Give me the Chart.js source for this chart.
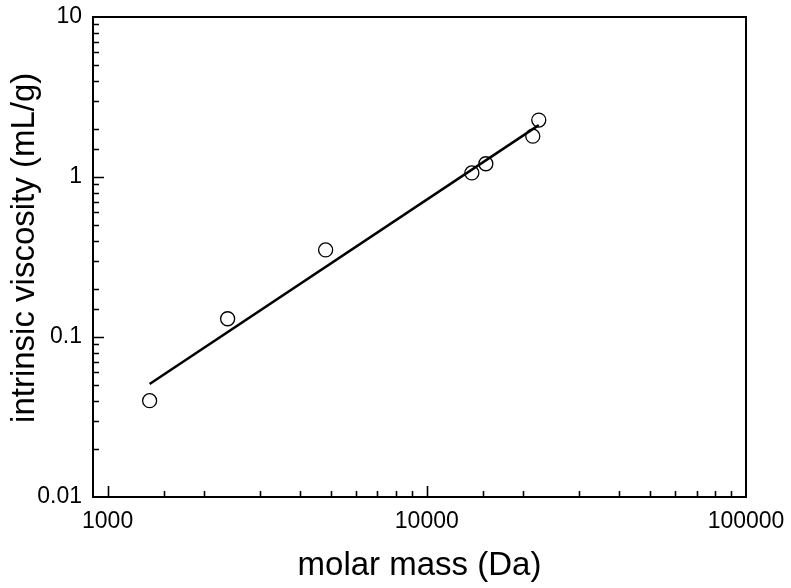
<!DOCTYPE html>
<html>
<head>
<meta charset="utf-8">
<script src="https://cdn.jsdelivr.net/npm/chart.js@4"></script>
<style>
  html, body { margin: 0; padding: 0; background: #fff; }
  canvas { display: block; }
</style>
</head>
<body>
<canvas id="viscChart" width="791" height="588"></canvas>
<script>
// measured points
const molarMass = [1354, 2377, 4820, 13840, 15310, 21480, 22430];
const viscosity = [0.040, 0.130, 0.35, 1.06, 1.21, 1.80, 2.27];
// fitted power law line (end points)
const fitMass = [1354, 22430];
const fitViscosity = [0.0508, 2.11];
// labelled decades
const xTickLabels = [1000, 10000, 100000];
const yTickLabels = [0.01, 0.1, 1, 10];

const FONT = '"Liberation Sans", Arial, Helvetica, sans-serif';

function isDecade(v) {
  const l = Math.log10(v);
  return Math.abs(l - Math.round(l)) < 1e-6;
}

// box frame + ticks pointing inward
const frameTicks = {
  id: 'frameTicks',
  afterDraw(chart) {
    const { ctx, chartArea: a, scales } = chart;
    ctx.save();
    ctx.strokeStyle = '#000';
    ctx.lineWidth = 1.6;
    ctx.beginPath();
    scales.x.ticks.forEach(t => {
      const px = Math.round(scales.x.getPixelForValue(t.value)) + 0.5;
      if (px <= a.left + 1 || px >= a.right - 1) return;
      const len = isDecade(t.value) ? 11 : 6;
      ctx.moveTo(px, a.bottom);
      ctx.lineTo(px, a.bottom - len);
    });
    scales.y.ticks.forEach(t => {
      const py = Math.round(scales.y.getPixelForValue(t.value)) + 0.5;
      if (py <= a.top + 1 || py >= a.bottom - 1) return;
      const len = isDecade(t.value) ? 11 : 6;
      ctx.moveTo(a.left, py);
      ctx.lineTo(a.left + len, py);
    });
    ctx.stroke();
    ctx.lineWidth = 2;
    ctx.strokeRect(a.left, a.top, a.right - a.left, a.bottom - a.top);
    ctx.restore();
  }
};

new Chart(document.getElementById('viscChart'), {
  type: 'scatter',
  data: {
    datasets: [{
      label: 'data',
      data: molarMass.map((m, i) => ({ x: m, y: viscosity[i] })),
      pointRadius: 7,
      pointHoverRadius: 7,
      pointBorderWidth: 1.3,
      pointBorderColor: '#000',
      pointBackgroundColor: 'rgba(0,0,0,0)',
      showLine: false
    }, {
      label: 'fit',
      data: fitMass.map((m, i) => ({ x: m, y: fitViscosity[i] })),
      showLine: true,
      borderColor: '#000',
      borderWidth: 2.5,
      pointRadius: 0
    }]
  },
  plugins: [frameTicks],
  options: {
    responsive: false,
    animation: false,
    devicePixelRatio: 1,
    layout: { padding: { left: 0, top: 17, right: 45, bottom: 0 } },
    plugins: { legend: { display: false }, tooltip: { enabled: false } },
    scales: {
      x: {
        type: 'logarithmic',
        min: 900,
        max: 100000,
        afterFit(s) { s.height = 91; s.paddingLeft = 0; s.paddingRight = 0; },
        border: { display: false },
        grid: { display: false, drawTicks: false },
        ticks: {
          autoSkip: false,
          maxRotation: 0,
          padding: 11,
          color: '#000',
          font: { family: FONT, size: 23 },
          callback: v => xTickLabels.includes(v) ? String(v) : ''
        },
        title: {
          display: true,
          text: 'molar mass (Da)',
          color: '#000',
          font: { family: FONT, size: 33 },
          padding: { top: 0, bottom: 2 }
        }
      },
      y: {
        type: 'logarithmic',
        min: 0.01,
        max: 10,
        afterFit(s) { s.width = 93; s.paddingTop = 0; s.paddingBottom = 0; },
        border: { display: false },
        grid: { display: false, drawTicks: false },
        ticks: {
          autoSkip: false,
          padding: 11,
          color: '#000',
          font: { family: FONT, size: 23 },
          callback: v => yTickLabels.some(d => Math.abs(d - v) < 1e-9) ? String(v) : ''
        },
        title: {
          display: true,
          text: '  intrinsic viscosity (mL/g)',
          color: '#000',
          font: { family: FONT, size: 33 },
          padding: { top: 5, bottom: 0 }
        }
      }
    }
  }
});
</script>
</body>
</html>
